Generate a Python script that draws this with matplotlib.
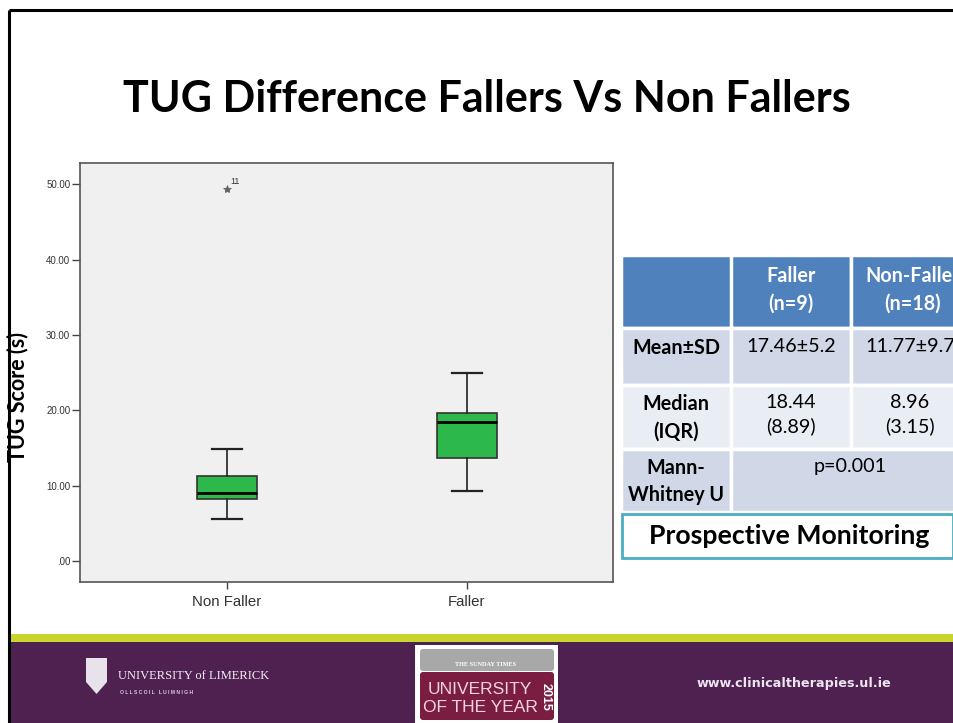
import matplotlib
matplotlib.use('Agg')
import matplotlib.pyplot as plt
from matplotlib.patches import Rectangle, FancyBboxPatch, Polygon

# box plot values (TUG score, seconds)
groups = ['Non Faller', 'Faller']
whis_lo = [5.6, 9.3]
q1 = [8.3, 13.7]
medians = [9.0, 18.4]
q3 = [11.35, 19.6]
whis_hi = [14.9, 24.9]
outliers = [[49.3], []]
outlier_ids = [['11'], []]
yticks = [0, 10, 20, 30, 40, 50]

# summary table
col_heads = ['', 'Faller\n(n=9)', 'Non-Faller\n(n=18)']
row_heads = ['Mean±SD', 'Median\n(IQR)', 'Mann-\nWhitney U']
faller_vals = ['17.46±5.2', '18.44\n(8.89)']
nonfaller_vals = ['11.77±9.7', '8.96\n(3.15)']
p_value = 'p=0.001'

W, H = 954, 723
fig = plt.figure(figsize=(W / 100, H / 100), dpi=100)
fig.patch.set_facecolor('white')

# background layer in pixel coordinates
bg = fig.add_axes([0, 0, 1, 1], zorder=0)
bg.set_xlim(0, W)
bg.set_ylim(H, 0)
bg.axis('off')

# slide frame
bg.plot([9, 9], [10, H], color='black', lw=2.2, solid_capstyle='butt')
bg.plot([9, W], [10, 10], color='black', lw=2.2, solid_capstyle='butt')

# title
bg.text(487, 99, 'TUG Difference Fallers Vs Non Fallers', ha='center', va='center',
        fontsize=31, fontweight='bold', family='Lato', color='black')

# y label
bg.text(18, 397, 'TUG Score (s)', rotation=90, ha='center', va='center',
        fontsize=15.5, fontweight='bold', family='Lato')

# box plot
ax = fig.add_axes([80 / W, (H - 582) / H, (613 - 80) / W, (582 - 163) / H], zorder=2)
ax.set_facecolor('#f0f0f0')
stats = []
for i in range(len(groups)):
    stats.append(dict(label=groups[i], whislo=whis_lo[i], q1=q1[i], med=medians[i],
                      q3=q3[i], whishi=whis_hi[i], fliers=outliers[i]))
ax.bxp(stats, positions=[1, 2], widths=0.25, capwidths=0.125, patch_artist=True,
       boxprops=dict(facecolor='#2db84b', edgecolor='#333333', lw=1.2),
       medianprops=dict(color='black', lw=2),
       whiskerprops=dict(color='#222222', lw=1.2),
       capprops=dict(color='#222222', lw=1.6),
       flierprops=dict(marker='*', markersize=6, markerfacecolor='#666666',
                       markeredgecolor='#555555', markeredgewidth=0.5, linestyle='none'))
for i in range(len(groups)):
    for v, lab in zip(outliers[i], outlier_ids[i]):
        ax.annotate(lab, (i + 1, v), xytext=(3, 4), textcoords='offset points',
                    fontsize=6.5, color='#333333', family='Liberation Sans')
ax.set_xlim(0.389, 2.61)
ax.set_ylim(-2.75, 52.8)
ax.set_yticks(yticks)
ax.set_yticklabels(['.00' if t == 0 else f'{t:.2f}' for t in yticks],
                   fontsize=7, family='Liberation Sans', color='#333333')
ax.set_xticks([1, 2])
ax.set_xticklabels(groups, fontsize=10.8, family='Liberation Sans', color='#333333')
ax.tick_params(axis='y', length=6, width=1, color='#444444', pad=1)
ax.tick_params(axis='x', length=5, width=1, color='#444444', pad=4)
for s in ax.spines.values():
    s.set_color('#555555')
    s.set_linewidth(1.2)

# table in pixel coordinates
tb = fig.add_axes([0, 0, 1, 1], zorder=3)
tb.set_xlim(0, W)
tb.set_ylim(H, 0)
tb.axis('off')
tb.patch.set_alpha(0)

xs = [621, 731, 851, 975]
ys = [255, 328, 385, 449, 512]
row_colors = ['#d0d8e8', '#e9edf4', '#d0d8e8']
fs = 14.2
ls = 1.45
tb.add_patch(Rectangle((xs[0], ys[0]), xs[3] - xs[0], ys[1] - ys[0],
                       facecolor='#4f81bd', edgecolor='white', lw=2.5, clip_on=False))
for j in (1, 2):
    tb.add_patch(Rectangle((xs[j], ys[0]), xs[j + 1] - xs[j], ys[1] - ys[0],
                           facecolor='#4f81bd', edgecolor='white', lw=2.5, clip_on=False))
    tb.text((xs[j] + xs[j + 1]) / 2, 290, col_heads[j], ha='center', va='center',
            fontsize=fs, fontweight='bold', family='Lato', color='white',
            linespacing=ls)
for r in range(3):
    y0, y1 = ys[r + 1], ys[r + 2]
    tb.add_patch(Rectangle((xs[0], y0), xs[1] - xs[0], y1 - y0,
                           facecolor=row_colors[r], edgecolor='white', lw=2.5))
    dy = 10 if r == 0 else 9
    tb.text((xs[0] + xs[1]) / 2, y0 + dy, row_heads[r], ha='center', va='top',
            fontsize=fs, fontweight='bold', family='Lato', color='black',
            linespacing=ls)
    if r < 2:
        for j, vals in ((1, faller_vals), (2, nonfaller_vals)):
            tb.add_patch(Rectangle((xs[j], y0), xs[j + 1] - xs[j], y1 - y0,
                                   facecolor=row_colors[r], edgecolor='white', lw=2.5))
            tb.text((xs[j] + xs[j + 1]) / 2 - (3 if j == 2 else 0), y0 + dy, vals[r],
                    ha='center', va='top', fontsize=fs, family='Lato',
                    color='black', linespacing=ls)
    else:
        tb.add_patch(Rectangle((xs[1], y0), xs[3] - xs[1], y1 - y0,
                               facecolor=row_colors[r], edgecolor='white', lw=2.5))
        tb.text(850, y0 + dy, p_value, ha='center', va='top', fontsize=fs,
                family='Lato', color='black')

tb.add_patch(Rectangle((622, 514), 331, 44, facecolor='white', edgecolor='#4bacc6', lw=2))
tb.text(789, 536, 'Prospective Monitoring', ha='center', va='center', fontsize=19.2,
        fontweight='bold', family='Lato', color='black')

# footer
bg.add_patch(Rectangle((10, 634), W - 10, 8, facecolor='#c9d52e', edgecolor='none'))
bg.add_patch(Rectangle((10, 642), W - 10, H - 642, facecolor='#4e2150', edgecolor='none'))
bg.add_patch(Polygon([(86, 658), (107, 658), (107, 682), (96.5, 694), (86, 682)],
                     closed=True, facecolor='#e8e2ea', edgecolor='none'))
bg.text(118, 676, 'UNIVERSITY of LIMERICK', ha='left', va='center', fontsize=9,
        family='Liberation Serif', color='#f4eef6')
bg.text(120, 693, 'O L L S C O I L   L U I M N I G H', ha='left', va='center',
        fontsize=3.6, family='Liberation Sans', fontweight='bold', color='#d8cfdc')

bg.add_patch(Rectangle((415, 645), 143, H - 645, facecolor='white', edgecolor='none'))
bg.add_patch(FancyBboxPatch((420, 649), 134, 22, boxstyle='round,pad=0,rounding_size=3',
                            facecolor='#a8a8a8', edgecolor='none'))
bg.add_patch(FancyBboxPatch((420, 672), 134, 48, boxstyle='round,pad=0,rounding_size=3',
                            facecolor='#7b1d40', edgecolor='none'))
bg.text(486, 665, 'THE SUNDAY TIMES', ha='center', va='center', fontsize=4.5,
        family='Liberation Serif', fontweight='bold', color='white')
bg.text(480, 689, 'UNIVERSITY', ha='center', va='center', fontsize=12.5,
        family='Liberation Sans', color='#f2d4e0')
bg.text(480, 708, 'OF THE YEAR', ha='center', va='center', fontsize=12.5,
        family='Liberation Sans', color='#f2d4e0')
bg.text(546, 697, '2015', rotation=-90, ha='center', va='center', fontsize=9,
        family='Liberation Sans', fontweight='bold', color='white')

bg.text(794, 683, 'www.clinicaltherapies.ul.ie', ha='center', va='center', fontsize=9.2,
        fontweight='bold', family='DejaVu Sans', color='#ece4ee')

fig.savefig('out.png', dpi=100, facecolor='white')
